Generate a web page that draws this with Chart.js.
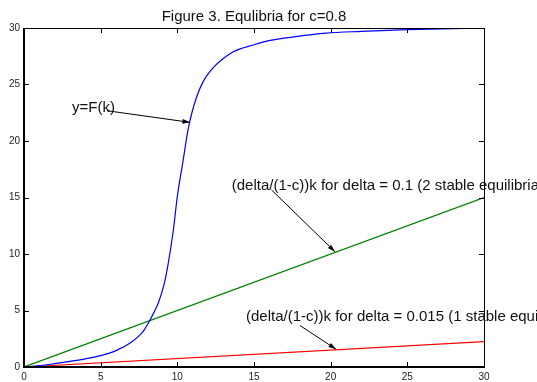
<!DOCTYPE html>
<html>
<head>
<meta charset="utf-8">
<script src="https://cdn.jsdelivr.net/npm/chart.js@4/dist/chart.umd.min.js"></script>
<style>
    body { margin: 0; background: #fff; }
    canvas { display: block; }
</style>
</head>
<body>
<canvas id="equilibria-chart" width="537" height="382"></canvas>
<script>
// values
const chartTitle = 'Figure 3. Equlibria for c=0.8';
const tickValues = [0, 5, 10, 15, 20, 25, 30];

// y = F(k), the S-shaped production curve
const curveK = [0, 1, 2, 3, 4, 5, 6, 7, 7.5, 7.83, 8.22, 8.5, 8.76, 9.15, 9.41, 9.74, 10, 10.35, 10.7, 10.95, 11.26, 11.7, 12.35, 13, 13.65, 14.96, 16.05, 17.5, 19.7, 22, 25, 28, 30];
const curveF = [0, 0.12, 0.3, 0.5, 0.72, 1.0, 1.45, 2.2, 2.75, 3.27, 4.16, 4.9, 5.66, 7.4, 9.2, 12.1, 15.1, 18.05, 21.0, 22.5, 23.9, 25.3, 26.5, 27.3, 27.9, 28.5, 28.9, 29.2, 29.55, 29.7, 29.85, 29.95, 30];

// (delta/(1-c))k lines
const lineK = [0, 30];
const highDeltaY = [0, 15];     // delta = 0.1
const lowDeltaY = [0, 2.25];    // delta = 0.015

// text labels with arrows, in data units (text at its baseline)
const notes = [
    { text: 'y=F(k)', x: 3.13, y: 22.57, from: [5.41, 22.68], to: [10.83, 21.65] },
    { text: '(delta/(1-c))k for delta = 0.1 (2 stable equilibria)', x: 13.55, y: 15.66, from: [16.15, 15.66], to: [20.28, 10.2] },
    { text: '(delta/(1-c))k for delta = 0.015 (1 stable equilibrium)', x: 14.48, y: 4.03, from: [18.0, 3.67], to: [20.35, 1.57] }
];

const FONT = '"Liberation Sans", Arial, Helvetica, sans-serif';

function toPoints(xs, ys) {
    return xs.map((x, i) => ({ x: x, y: ys[i] }));
}

// draws the box, inward ticks, title and the arrows
const matlabAxes = {
    id: 'matlabAxes',
    afterDatasetsDraw(chart) {
        const ctx = chart.ctx;
        const area = chart.chartArea;
        const xs = chart.scales.x;
        const ys = chart.scales.y;
        ctx.save();

        // box
        ctx.strokeStyle = '#000';
        ctx.lineWidth = 1;
        ctx.beginPath();
        ctx.moveTo(area.left, area.top + 0.5);
        ctx.lineTo(area.right + 0.5, area.top + 0.5);
        ctx.lineTo(area.right + 0.5, area.bottom);
        ctx.stroke();
        ctx.lineWidth = 2;
        ctx.beginPath();
        ctx.moveTo(area.left, area.top);
        ctx.lineTo(area.left, area.bottom);
        ctx.lineTo(area.right + 1, area.bottom);
        ctx.stroke();

        // inward ticks on all four sides
        ctx.lineWidth = 1;
        ctx.beginPath();
        tickValues.forEach(v => {
            const px = Math.round(xs.getPixelForValue(v)) + 0.5;
            ctx.moveTo(px, area.bottom);
            ctx.lineTo(px, area.bottom - 5);
            ctx.moveTo(px, area.top);
            ctx.lineTo(px, area.top + 5);
            const py = Math.round(ys.getPixelForValue(v)) + 0.5;
            ctx.moveTo(area.left, py);
            ctx.lineTo(area.left + 5, py);
            ctx.moveTo(area.right, py);
            ctx.lineTo(area.right - 5, py);
        });
        ctx.stroke();

        // title
        ctx.fillStyle = '#111';
        ctx.font = '15px ' + FONT;
        ctx.textAlign = 'center';
        ctx.textBaseline = 'alphabetic';
        ctx.fillText(chartTitle, (area.left + area.right) / 2, area.top - 7);

        // notes + arrows
        ctx.textAlign = 'left';
        notes.forEach(n => {
            ctx.fillStyle = '#111';
            ctx.fillText(n.text, xs.getPixelForValue(n.x), ys.getPixelForValue(n.y));
            const x1 = xs.getPixelForValue(n.from[0]);
            const y1 = ys.getPixelForValue(n.from[1]);
            const x2 = xs.getPixelForValue(n.to[0]);
            const y2 = ys.getPixelForValue(n.to[1]);
            ctx.strokeStyle = '#000';
            ctx.lineWidth = 1;
            ctx.beginPath();
            ctx.moveTo(x1, y1);
            ctx.lineTo(x2, y2);
            ctx.stroke();
            const ang = Math.atan2(y2 - y1, x2 - x1);
            const len = 8, half = 0.3;
            ctx.fillStyle = '#000';
            ctx.beginPath();
            ctx.moveTo(x2, y2);
            ctx.lineTo(x2 - len * Math.cos(ang - half), y2 - len * Math.sin(ang - half));
            ctx.lineTo(x2 - len * Math.cos(ang + half), y2 - len * Math.sin(ang + half));
            ctx.closePath();
            ctx.fill();
        });
        ctx.restore();
    }
};

const ctx = document.getElementById('equilibria-chart').getContext('2d');
new Chart(ctx, {
    type: 'scatter',
    data: {
        datasets: [
            {
                label: 'y=F(k)',
                data: toPoints(curveK, curveF),
                borderColor: '#0000ff',
                borderWidth: 1.2,
                showLine: true,
                pointRadius: 0,
                cubicInterpolationMode: 'monotone'
            },
            {
                label: 'delta = 0.1',
                data: toPoints(lineK, highDeltaY),
                borderColor: '#008000',
                borderWidth: 1.2,
                showLine: true,
                pointRadius: 0
            },
            {
                label: 'delta = 0.015',
                data: toPoints(lineK, lowDeltaY),
                borderColor: '#ff0000',
                borderWidth: 1.2,
                showLine: true,
                pointRadius: 0
            }
        ]
    },
    options: {
        responsive: false,
        animation: false,
        layout: { padding: { top: 28, right: 53, left: 0, bottom: 0 } },
        plugins: {
            legend: { display: false },
            tooltip: { enabled: false },
            title: { display: false }
        },
        scales: {
            x: {
                type: 'linear',
                min: 0,
                max: 30,
                border: { display: false },
                grid: { display: false, drawTicks: false },
                afterBuildTicks: s => { s.ticks = tickValues.map(v => ({ value: v })); },
                afterFit: s => { s.height = 15; },
                ticks: {
                    padding: 4,
                    color: '#222',
                    maxRotation: 0,
                    font: { size: 10, family: FONT }
                }
            },
            y: {
                type: 'linear',
                min: 0,
                max: 30,
                border: { display: false },
                grid: { display: false, drawTicks: false },
                afterBuildTicks: s => { s.ticks = tickValues.map(v => ({ value: v })); },
                afterFit: s => { s.width = 24; },
                ticks: {
                    padding: 4,
                    color: '#222',
                    font: { size: 10, family: FONT }
                }
            }
        }
    },
    plugins: [matlabAxes]
});
</script>
</body>
</html>
